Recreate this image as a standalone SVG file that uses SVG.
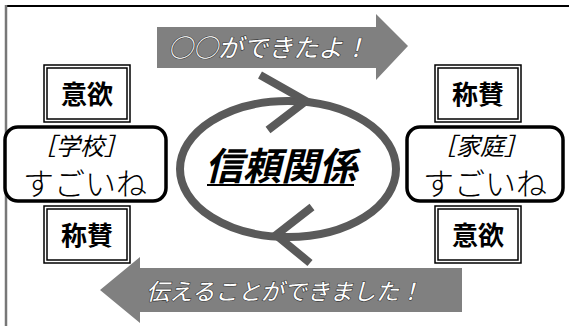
<svg xmlns="http://www.w3.org/2000/svg" width="569" height="326" viewBox="0 0 569 326">
<style>
.jp{font-family:"Noto Sans CJK JP","Noto Sans CJK SC",sans-serif;}
.lbl{font-size:26px;font-weight:bold;fill:#000;text-anchor:middle;}
.box-o{fill:#fff;stroke:#000;stroke-width:1.5;}
.box-i{fill:none;stroke:#000;stroke-width:1.5;}
.rr{fill:#fff;stroke:#000;stroke-width:3.5;}
.brk{font-size:24px;font-style:italic;text-anchor:middle;fill:#000;}
.sg{font-size:31px;font-weight:300;text-anchor:middle;fill:#000;}
.arr{fill:#808080;}
.wt{font-style:italic;fill:#fff;stroke:#3a3a3a;stroke-width:1.2;paint-order:stroke;text-anchor:middle;}
.cyc{fill:none;stroke:#5a5a5a;stroke-width:8;}
</style>
<rect width="569" height="326" fill="#fff"/>
<g id="frame">
<line x1="5" y1="6" x2="569" y2="6" stroke="#000" stroke-width="2"/>
<line x1="6" y1="5" x2="6" y2="326" stroke="#777" stroke-width="2.5"/>
</g>
<g id="connectors">
<g id="arrow-top">
<polygon class="arr" points="157,27 376,27 376,14 408,46 376,80 376,68 157,68"/>
<text class="jp wt" x="268" y="57" font-size="25">○○ができたよ！</text>
</g>
<g id="arrow-bottom">
<polygon class="arr" points="462,268 140,268 140,257 100,290 140,323 140,312 462,312"/>
<text class="jp wt" x="284" y="300" font-size="23">伝えることができました！</text>
</g>
<g id="cycle">
<ellipse class="cyc" cx="288" cy="169" rx="108" ry="68"/>
<polyline class="cyc" points="260,75 306,101 268,130"/>
<polyline class="cyc" points="312,207 276,235 310,263"/>
</g>
</g>
<g id="center">
<text class="jp" x="281" y="180" font-size="38" font-weight="bold" font-style="italic" text-anchor="middle" fill="#000">信頼関係</text>
<line x1="207" y1="185" x2="354" y2="185" stroke="#000" stroke-width="2"/>
</g>
<g id="school">
<rect class="rr" x="5" y="127" width="161" height="74" rx="13"/>
<text class="jp brk" x="80" y="155">［学校］</text>
<text class="jp sg" x="85" y="195">すごいね</text>
</g>
<g id="home">
<rect class="rr" x="407" y="127" width="156" height="74" rx="13"/>
<text class="jp brk" x="480" y="155">［家庭］</text>
<text class="jp sg" x="485" y="195">すごいね</text>
</g>
<g id="school-motivation">
<rect class="box-o" x="44" y="65" width="86" height="57"/>
<rect class="box-i" x="47" y="68" width="80" height="51"/>
<text class="jp lbl" x="87" y="104">意欲</text>
</g>
<g id="school-praise">
<rect class="box-o" x="44" y="206" width="86" height="57"/>
<rect class="box-i" x="47" y="209" width="80" height="51"/>
<text class="jp lbl" x="87" y="245">称賛</text>
</g>
<g id="home-praise">
<rect class="box-o" x="435" y="65" width="86" height="57"/>
<rect class="box-i" x="438" y="68" width="80" height="51"/>
<text class="jp lbl" x="478" y="104">称賛</text>
</g>
<g id="home-motivation">
<rect class="box-o" x="435" y="206" width="86" height="57"/>
<rect class="box-i" x="438" y="209" width="80" height="51"/>
<text class="jp lbl" x="478" y="245">意欲</text>
</g>
</svg>
